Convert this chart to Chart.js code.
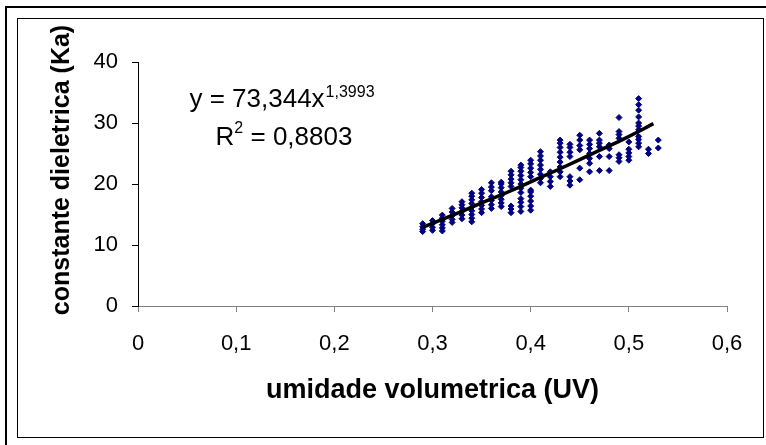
<!DOCTYPE html>
<html>
<head>
<meta charset="utf-8">
<script src="https://cdn.jsdelivr.net/npm/chart.js@4.4.1/dist/chart.umd.min.js"></script>
<style>
  html, body { margin: 0; padding: 0; background: #fff; overflow: hidden; }
  .frame-outer { position: absolute; left: 5px; top: 6px; width: 900px; height: 600px; border: 2px solid #000; }
  .frame-inner { position: absolute; left: 17px; top: 18px; width: 745px; height: 418px; border: 1px solid #000; }
  #wrap { position: absolute; left: 0; top: 0; width: 766px; height: 445px; }
</style>
</head>
<body>
<div class="frame-outer"></div>
<div class="frame-inner"></div>
<div id="wrap"><canvas id="kaChart" width="766" height="445"></canvas></div>
<script>
// umidade volumetrica columns and the Ka readings in each one
const uvCols = [0.29, 0.30, 0.31, 0.32, 0.33, 0.34, 0.35, 0.36, 0.37, 0.38, 0.39, 0.40, 0.41,
  0.42, 0.43, 0.44, 0.45, 0.46, 0.47, 0.48, 0.49, 0.50, 0.51, 0.52, 0.53];
const kaCols = [
  [12.2, 12.6, 13.0, 13.5],
  [12.4, 12.9, 13.5, 14.0],
  [12.3, 12.8, 13.3, 13.9, 14.4, 14.9],
  [13.7, 14.2, 14.8, 15.4, 16.0],
  [14.3, 14.9, 15.5, 16.1, 16.6, 17.1],
  [13.8, 14.4, 15.0, 15.6, 16.2, 16.8, 17.4, 18.0, 18.5],
  [15.3, 15.9, 16.5, 17.1, 17.8, 18.5, 19.1],
  [16.0, 16.6, 17.3, 17.9, 18.9, 19.5, 20.2],
  [16.3, 16.9, 17.5, 18.1, 18.7, 19.4, 20.0, 20.3],
  [15.3, 15.9, 16.4, 19.6, 20.2, 20.8, 21.5, 22.1],
  [15.5, 16.3, 17.0, 17.6, 18.6, 19.3, 20.0, 20.7, 21.4, 22.1, 22.7, 23.1],
  [15.7, 16.4, 17.2, 18.0, 18.7, 19.0, 21.2, 21.9, 22.6, 23.3, 23.9],
  [20.2, 20.9, 21.6, 22.4, 23.1, 23.9, 24.6, 25.3],
  [19.6, 20.4, 21.2, 22.0],
  [21.2, 22.0, 22.8, 23.6, 24.4, 25.2, 26.0, 26.7, 27.2],
  [19.8, 20.5, 21.2, 24.5, 25.2, 26.0, 26.5],
  [20.7, 22.6, 25.6, 26.3, 27.2, 28.0],
  [22.0, 23.4, 24.2, 25.0, 25.8, 26.5, 27.2],
  [22.2, 24.5, 26.1, 26.7, 27.2, 28.3],
  [22.2, 24.5, 25.8, 26.4],
  [23.7, 24.3, 24.8, 27.5, 28.1, 28.6, 30.9],
  [23.9, 24.5, 25.1, 25.7, 26.9],
  [26.1, 26.7, 27.3, 27.8, 28.9, 29.5, 30.0, 31.0, 32.1, 33.0, 34.0],
  [25.0, 25.7],
  [25.9, 27.2]
];

// power trendline
const trendUV = [0.29, 0.31, 0.33, 0.35, 0.37, 0.39, 0.41, 0.43, 0.45, 0.47, 0.49, 0.51, 0.525];
const trendKa = [12.9, 14.2, 15.5, 16.9, 18.2, 19.6, 21.1, 22.5, 24.0, 25.5, 27.0, 28.6, 29.9];

const xTickLabels = ["0", "0,1", "0,2", "0,3", "0,4", "0,5", "0,6"];
const yTickLabels = ["0", "10", "20", "30", "40"];

const eqMain = "y = 73,344x";
const eqExp = "1,3993";
const r2Main = "R";
const r2Exp = "2";
const r2Rest = " = 0,8803";
const xTitle = "umidade volumetrica (UV)";
const yTitle = "constante dieletrica (Ka)";

const FONT = "'Liberation Sans', Arial, sans-serif";

//building point list from the columns
const points = [];
uvCols.forEach((uv, i) => {
  kaCols[i].forEach(ka => points.push({ x: uv, y: ka }));
});
const trendPoints = trendUV.map((uv, i) => ({ x: uv, y: trendKa[i] }));

//y title and trendline equation
const textPlugin = {
  id: "textPlugin",
  afterDraw(chart) {
    const ctx = chart.ctx;
    ctx.save();
    ctx.fillStyle = "#000";

    ctx.save();
    ctx.translate(62, 170);
    ctx.rotate(-Math.PI / 2);
    ctx.font = "bold 25px " + FONT;
    ctx.textAlign = "center";
    ctx.textBaseline = "middle";
    ctx.fillText(yTitle, 0, 0);
    ctx.restore();

    const cx = 282;
    ctx.textBaseline = "alphabetic";
    ctx.textAlign = "left";

    ctx.font = "26px " + FONT;
    const w1 = ctx.measureText(eqMain).width;
    ctx.font = "16px " + FONT;
    const w1s = ctx.measureText(eqExp).width;
    let x = cx - (w1 + 1 + w1s) / 2;
    ctx.font = "26px " + FONT;
    ctx.fillText(eqMain, x, 107);
    ctx.font = "16px " + FONT;
    ctx.fillText(eqExp, x + w1 + 1, 97);

    ctx.font = "26px " + FONT;
    const wR = ctx.measureText(r2Main).width;
    const wRest = ctx.measureText(r2Rest).width;
    ctx.font = "16px " + FONT;
    const w2s = ctx.measureText(r2Exp).width;
    x = cx + 2 - (wR + w2s + wRest) / 2;
    ctx.font = "26px " + FONT;
    ctx.fillText(r2Main, x, 145);
    ctx.font = "16px " + FONT;
    ctx.fillText(r2Exp, x + wR, 133);
    ctx.font = "26px " + FONT;
    ctx.fillText(r2Rest, x + wR + w2s, 145);

    ctx.restore();
  }
};

new Chart(document.getElementById("kaChart"), {
  type: "scatter",
  data: {
    datasets: [
      {
        label: "Ka",
        data: points,
        pointStyle: "rectRot",
        pointRadius: 3,
        borderWidth: 1,
        backgroundColor: "#000080",
        borderColor: "#000080",
        order: 2
      },
      {
        label: "trend",
        data: trendPoints,
        showLine: true,
        pointRadius: 0,
        borderColor: "#000",
        borderWidth: 3.5,
        tension: 0,
        order: 1
      }
    ]
  },
  options: {
    responsive: false,
    animation: false,
    layout: { padding: { left: 0, top: 62, right: 39, bottom: 0 } },
    plugins: {
      legend: { display: false },
      tooltip: { enabled: false }
    },
    scales: {
      x: {
        type: "linear",
        min: 0,
        max: 0.6,
        afterFit: s => { s.height = 139; },
        ticks: {
          stepSize: 0.1,
          color: "#000",
          padding: 19,
          maxRotation: 0,
          font: { family: FONT, size: 22 },
          callback: (v, i) => xTickLabels[i]
        },
        grid: { drawOnChartArea: false, drawTicks: true, tickLength: 6, color: "#808080" },
        border: { color: "#808080", width: 1 },
        title: {
          display: true,
          text: xTitle,
          color: "#000",
          font: { family: FONT, size: 27, weight: "bold" },
          padding: { top: 0, bottom: 38 }
        }
      },
      y: {
        min: 0,
        max: 40,
        afterFit: s => { s.width = 138; },
        ticks: {
          stepSize: 10,
          color: "#000",
          padding: 14,
          font: { family: FONT, size: 22 },
          callback: (v, i) => yTickLabels[i]
        },
        grid: { drawOnChartArea: false, drawTicks: true, tickLength: 6, color: "#000" },
        border: { color: "#000", width: 1 }
      }
    }
  },
  plugins: [textPlugin]
});
</script>
</body>
</html>
